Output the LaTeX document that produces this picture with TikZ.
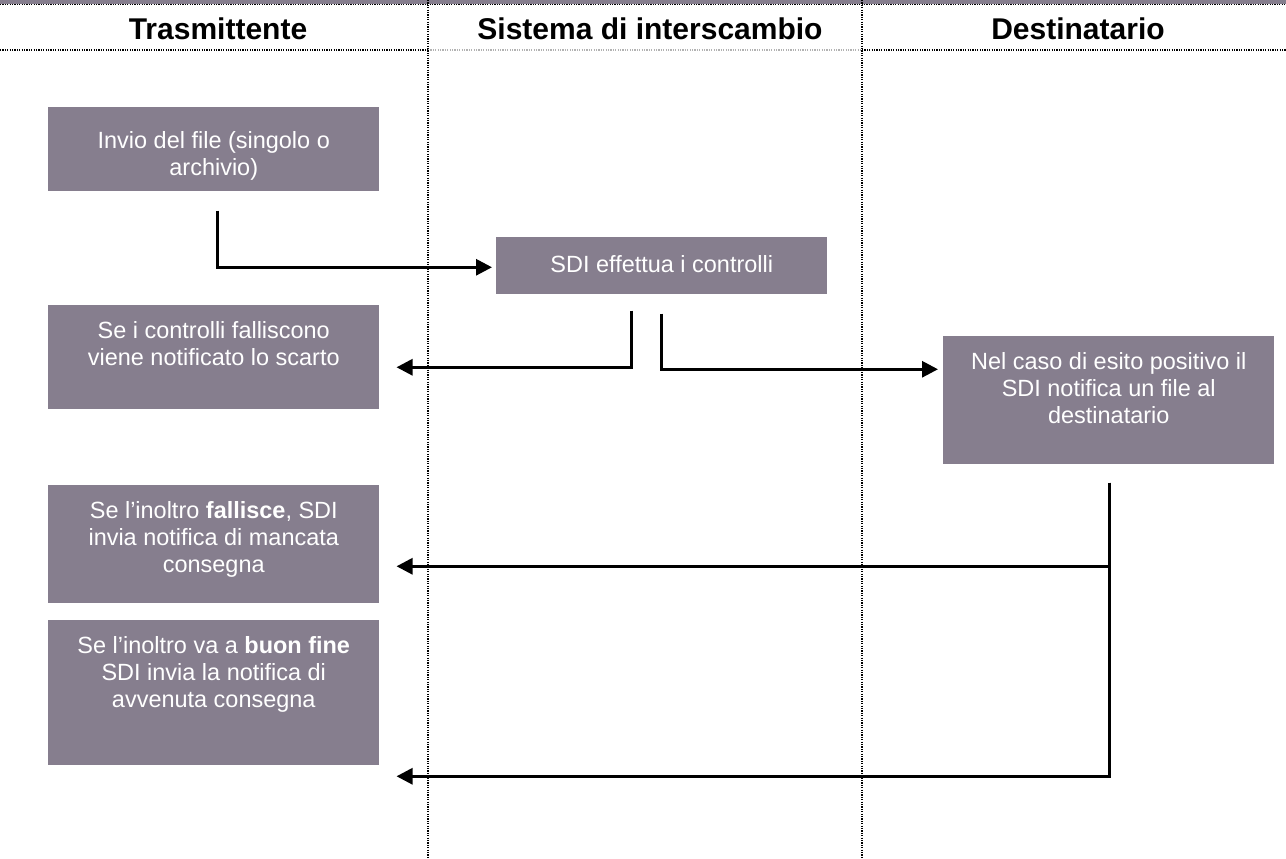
\documentclass[tikz,border=0pt]{standalone}
\usepackage{fontspec}
\setmainfont{Liberation Sans}
\usepackage{tikz}
\usetikzlibrary{calc,arrows.meta}
\definecolor{boxfill}{HTML}{867E8E}

\tikzset{
  box/.style={fill=boxfill, anchor=north west, minimum width=248.25pt, inner sep=0pt},
  boxtext/.style={anchor=north, yshift=-12.5pt, text=white, align=center, inner sep=0pt,
    font=\fontsize{17.6}{20.25}\selectfont},
  head/.style={anchor=base, font=\fontsize{22.5}{27}\selectfont\bfseries},
  lane/.style={dash pattern=on 0.9pt off 0.9pt, line width=0.9pt},
  flow/.style={line width=2.25pt, line join=miter, -{Triangle[length=12pt,width=12pt]}},
}

\begin{document}
\begin{tikzpicture}[x=0.75pt,y=-0.75pt]
      \useasboundingbox (0,0) rectangle (1286,858);

      % lanes
      \fill[boxfill] (0,0) rectangle (1286,4);
      \draw[lane] (0,4.5) -- (1286,4.5);
      \draw[lane] (0,50) -- (428,50);
      \draw[lane,gray!60] (428,50) -- (862,50);
      \draw[lane] (862,50) -- (1286,50);
      \draw[lane] (428,0) -- (428,858);
      \draw[lane] (862,0) -- (862,858);

      \path
      (218,39) node[head](hsend) {Trasmittente}
      (650,39) node[head](hsdi) {Sistema di interscambio}
      (1078,39) node[head](hdest) {Destinatario}
      ;

      \path
      (48,107) node[box, minimum height=63pt,
        label={[boxtext, yshift=-5.75pt]north:Invio del file (singolo o\\archivio)}](b1) {}
      (496,237) node[box, minimum height=42.75pt,
        label={[boxtext, yshift=-1.5pt]north:SDI effettua i controlli}](b2) {}
      (48,305) node[box, minimum height=78pt,
        label={[boxtext]north:Se i controlli falliscono\\viene notificato lo scarto}](b3) {}
      (943,336) node[box, minimum height=96pt,
        label={[boxtext]north:Nel caso di esito positivo il\\SDI notifica un file al\\destinatario}](b4) {}
      (48,485) node[box, minimum height=88.5pt,
        label={[boxtext]north:Se l’inoltro \textbf{fallisce}, SDI\\invia notifica di mancata\\consegna}](b5) {}
      (48,620) node[box, minimum height=108.75pt,
        label={[boxtext]north:Se l’inoltro va a \textbf{buon fine}\\SDI invia la notifica di\\avvenuta consegna}](b6) {}
      ;

      \draw[flow] ($(b1.south)+(3.5,19)$) |- ($(b2.west)+(-4,1.5)$);
      \draw[flow] ($(b2.south)+(-30.5,16)$) |- ($(b3.east)+(17,10)$);
      \draw[flow] ($(b2.south)+(0,19)$) |- ($(b4.west)+(-5,-31)$);
      \draw[flow] ($(b4.south)+(0.5,18)$) |- ($(b5.east)+(17,22)$);
      \draw[flow] ($(b4.south)+(0.5,18)$) |- ($(b6.east)+(17,83.5)$);
\end{tikzpicture}
\end{document}
